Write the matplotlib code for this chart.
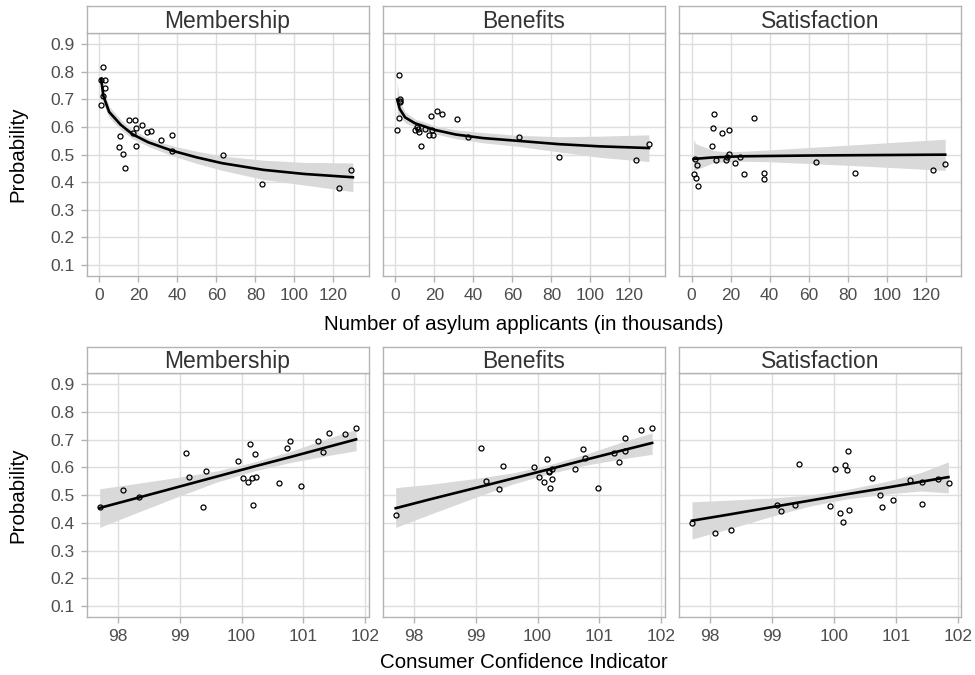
import matplotlib
matplotlib.use("Agg")
import matplotlib.pyplot as plt

plt.rcParams['font.family'] = ['Liberation Sans', 'DejaVu Sans']

outcomes = ["Membership", "Benefits", "Satisfaction"]

# --- top row: asylum applicants (thousands) ---
asy_mem_x = [1.9, 1.0, 3.1, 2.7, 2.1, 0.9, 15.4, 18.3, 18.6, 21.7, 10.8, 17.4, 24.3, 26.5,
             31.5, 37.1, 10.1, 19.0, 12.1, 13.3, 37.0, 63.2, 83.6, 123.0, 129.2]
asy_mem_y = [0.818, 0.770, 0.770, 0.740, 0.714, 0.681, 0.625, 0.625, 0.598, 0.608, 0.566, 0.580,
             0.583, 0.585, 0.554, 0.571, 0.527, 0.533, 0.503, 0.453, 0.515, 0.498, 0.395, 0.378, 0.445]
asy_ben_x = [1.7, 2.5, 2.2, 2.6, 1.9, 0.7, 10.0, 11.0, 11.5, 12.2, 13.2, 15.1, 17.2, 18.6,
             19.3, 18.4, 21.5, 24.0, 31.6, 37.3, 63.2, 83.8, 123.5, 130.1]
asy_ben_y = [0.788, 0.700, 0.695, 0.690, 0.633, 0.591, 0.589, 0.600, 0.592, 0.581, 0.531, 0.593,
             0.573, 0.591, 0.570, 0.639, 0.657, 0.648, 0.629, 0.563, 0.564, 0.492, 0.480, 0.540]
asy_sat_x = [11.2, 11.0, 15.5, 19.2, 31.8, 10.3, 18.9, 1.9, 12.4, 17.7, 18.2, 24.6, 2.7, 22.0,
             1.0, 2.4, 3.1, 26.8, 37.3, 37.3, 63.6, 84.0, 123.5, 130.0]
asy_sat_y = [0.646, 0.598, 0.579, 0.591, 0.633, 0.531, 0.504, 0.484, 0.481, 0.480, 0.490, 0.493,
             0.461, 0.471, 0.431, 0.415, 0.388, 0.431, 0.433, 0.412, 0.475, 0.433, 0.443, 0.466]

# fitted curves with confidence bands
asy_mem_fx = [0.9, 2, 5, 11, 17, 25, 37, 50, 63, 84, 105, 130]
asy_mem_fy = [0.775, 0.714, 0.655, 0.608, 0.574, 0.545, 0.515, 0.490, 0.469, 0.445, 0.430, 0.418]
asy_mem_lo = [0.735, 0.685, 0.635, 0.590, 0.558, 0.530, 0.497, 0.468, 0.443, 0.410, 0.390, 0.366]
asy_mem_hi = [0.810, 0.745, 0.675, 0.626, 0.590, 0.560, 0.533, 0.512, 0.495, 0.480, 0.472, 0.470]

asy_ben_fx = [0.9, 2.2, 5, 10, 20, 31, 45, 63, 84, 105, 130]
asy_ben_fy = [0.700, 0.666, 0.635, 0.614, 0.590, 0.573, 0.560, 0.550, 0.538, 0.530, 0.524]
asy_ben_lo = [0.640, 0.640, 0.615, 0.600, 0.576, 0.558, 0.543, 0.530, 0.510, 0.490, 0.475]
asy_ben_hi = [0.760, 0.695, 0.655, 0.630, 0.605, 0.590, 0.580, 0.570, 0.565, 0.567, 0.572]

asy_sat_fx = [1, 2, 11, 18, 25, 37, 63, 84, 130]
asy_sat_fy = [0.484, 0.485, 0.490, 0.492, 0.494, 0.495, 0.497, 0.498, 0.500]
asy_sat_lo = [0.440, 0.445, 0.470, 0.475, 0.476, 0.475, 0.467, 0.460, 0.443]
asy_sat_hi = [0.555, 0.540, 0.515, 0.510, 0.512, 0.516, 0.527, 0.536, 0.556]

# --- bottom row: consumer confidence indicator ---
cci_mem_x = [97.71, 98.08, 98.34, 99.10, 99.15, 99.43, 99.38, 99.94, 100.02, 100.11, 100.14, 100.17,
             100.21, 100.24, 100.19, 100.60, 100.74, 100.78, 100.96, 101.23, 101.31, 101.42, 101.67, 101.85]
cci_mem_y = [0.457, 0.519, 0.492, 0.651, 0.567, 0.587, 0.457, 0.622, 0.563, 0.547, 0.684, 0.561,
             0.647, 0.567, 0.465, 0.542, 0.670, 0.695, 0.533, 0.695, 0.655, 0.725, 0.720, 0.743]
cci_ben_x = [97.71, 99.09, 99.16, 99.38, 99.44, 99.94, 100.03, 100.10, 100.15, 100.18, 100.19, 100.20,
             100.23, 100.23, 100.61, 100.74, 100.77, 100.97, 101.24, 101.31, 101.42, 101.42, 101.67, 101.85]
cci_ben_y = [0.427, 0.670, 0.552, 0.522, 0.606, 0.602, 0.566, 0.547, 0.630, 0.582, 0.587, 0.524,
             0.559, 0.593, 0.593, 0.667, 0.635, 0.524, 0.653, 0.618, 0.706, 0.660, 0.733, 0.743]
cci_sat_x = [97.71, 98.08, 98.34, 99.43, 99.09, 99.15, 99.37, 99.94, 100.02, 100.10, 100.15, 100.18,
             100.22, 100.23, 100.24, 100.61, 100.75, 100.77, 100.96, 101.23, 101.42, 101.42, 101.68, 101.86]
cci_sat_y = [0.401, 0.364, 0.376, 0.614, 0.465, 0.443, 0.466, 0.461, 0.595, 0.436, 0.404, 0.610,
             0.592, 0.658, 0.448, 0.561, 0.501, 0.457, 0.482, 0.554, 0.469, 0.549, 0.559, 0.542]

cci_fx = [97.71, 98.3, 99.0, 99.6, 100.2, 100.8, 101.4, 101.85]
cci_mem_fy = [0.454, 0.489, 0.531, 0.567, 0.603, 0.638, 0.674, 0.701]
cci_mem_lo = [0.384, 0.436, 0.497, 0.547, 0.587, 0.618, 0.643, 0.660]
cci_mem_hi = [0.523, 0.542, 0.565, 0.587, 0.619, 0.658, 0.705, 0.737]
cci_ben_fy = [0.453, 0.487, 0.526, 0.560, 0.594, 0.629, 0.663, 0.688]
cci_ben_lo = [0.384, 0.434, 0.492, 0.540, 0.578, 0.609, 0.632, 0.647]
cci_ben_hi = [0.527, 0.540, 0.560, 0.580, 0.610, 0.649, 0.694, 0.724]
cci_sat_fy = [0.408, 0.430, 0.457, 0.480, 0.503, 0.525, 0.548, 0.565]
cci_sat_lo = [0.342, 0.378, 0.424, 0.460, 0.486, 0.503, 0.515, 0.508]
cci_sat_hi = [0.476, 0.482, 0.490, 0.500, 0.520, 0.547, 0.581, 0.620]

y_ticks = [0.1, 0.2, 0.3, 0.4, 0.5, 0.6, 0.7, 0.8, 0.9]
asy_ticks = [0, 20, 40, 60, 80, 100, 120]
cci_ticks = [98, 99, 100, 101, 102]

top_rows = [
    (asy_mem_x, asy_mem_y, asy_mem_fx, asy_mem_fy, asy_mem_lo, asy_mem_hi),
    (asy_ben_x, asy_ben_y, asy_ben_fx, asy_ben_fy, asy_ben_lo, asy_ben_hi),
    (asy_sat_x, asy_sat_y, asy_sat_fx, asy_sat_fy, asy_sat_lo, asy_sat_hi),
]
bottom_rows = [
    (cci_mem_x, cci_mem_y, cci_fx, cci_mem_fy, cci_mem_lo, cci_mem_hi),
    (cci_ben_x, cci_ben_y, cci_fx, cci_ben_fy, cci_ben_lo, cci_ben_hi),
    (cci_sat_x, cci_sat_y, cci_fx, cci_sat_fy, cci_sat_lo, cci_sat_hi),
]

W, H = 975, 675
fig = plt.figure(figsize=(W / 100, H / 100), dpi=100)

border = "#B3B3B3"
grid_c = "#DEDEDE"
tick_lab = "#4D4D4D"
lefts = [86.7, 382.7, 679.0]
pw = 281.8


def panel(left_px, top_px, bot_px, strip_top_px, title, data, xticks, xlim, show_y):
    ax = fig.add_axes([left_px / W, 1 - bot_px / H, pw / W, (bot_px - top_px) / H])
    xs, ys, fx, fy, lo, hi = data
    ax.fill_between(fx, lo, hi, color="#D9D9D9", lw=0, zorder=2)
    ax.plot(fx, fy, color="black", lw=1.9, zorder=3)
    ax.plot(xs, ys, "o", ms=3.6, mfc="none", mec="black", mew=0.9, zorder=4)
    ax.set_xlim(*xlim)
    ax.set_ylim(0.06, 0.94)
    ax.set_xticks(xticks)
    ax.set_yticks(y_ticks)
    ax.set_yticklabels([f"{v:.1f}" for v in y_ticks])
    ax.grid(True, color=grid_c, lw=1.0, zorder=0)
    ax.set_axisbelow(True)
    for s in ax.spines.values():
        s.set_color(border)
        s.set_linewidth(1.0)
    ax.tick_params(axis="x", colors=border, labelcolor=tick_lab, labelsize=12.5,
                   length=4.5, width=1.0, pad=4)
    ax.tick_params(axis="y", colors=border, labelcolor=tick_lab, labelsize=12.5,
                   length=4.5, width=1.0, pad=4)
    if not show_y:
        ax.tick_params(axis="y", length=0, labelleft=False)
    # facet strip
    sa = fig.add_axes([left_px / W, 1 - top_px / H, pw / W, (top_px - strip_top_px) / H])
    sa.set_xticks([])
    sa.set_yticks([])
    for s in sa.spines.values():
        s.set_color(border)
        s.set_linewidth(1.0)
    sa.text(0.5, 0.45, title, ha="center", va="center", fontsize=16.5, color="#333333",
            transform=sa.transAxes)
    return ax


for i, name in enumerate(outcomes):
    panel(lefts[i], 33.3, 276.0, 6.0, name, top_rows[i], asy_ticks, (-6.5, 138.0), i == 0)
    panel(lefts[i], 373.0, 617.3, 346.7, name, bottom_rows[i], cci_ticks, (97.5, 102.05), i == 0)

fig.text(523.7 / W, 1 - 325 / H, "Number of asylum applicants (in thousands)",
         ha="center", va="center", fontsize=14.8, color="black")
fig.text(523.7 / W, 1 - 663 / H, "Consumer Confidence Indicator",
         ha="center", va="center", fontsize=14.8, color="black")
fig.text(18 / W, 1 - 154.7 / H, "Probability", rotation=90, ha="center", va="center",
         fontsize=14.8, color="black")
fig.text(18 / W, 1 - 495 / H, "Probability", rotation=90, ha="center", va="center",
         fontsize=14.8, color="black")

fig.savefig("out.png", dpi=100, facecolor="white")
